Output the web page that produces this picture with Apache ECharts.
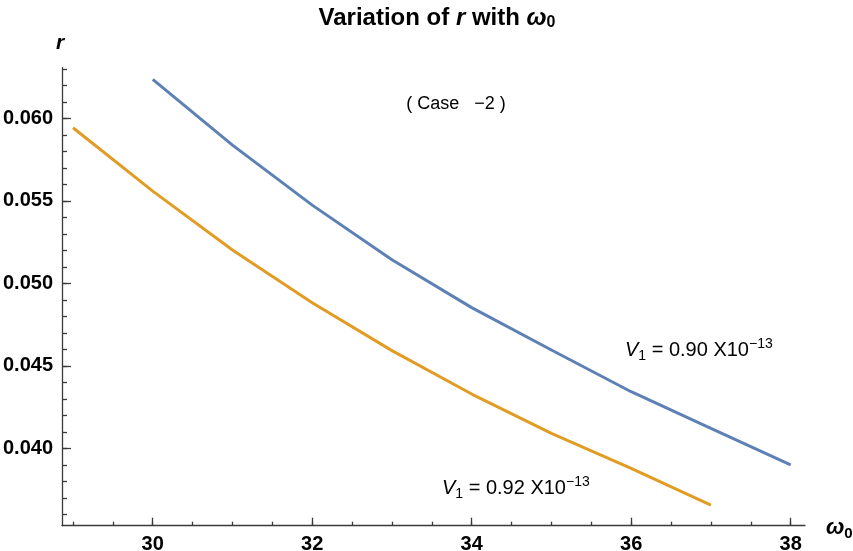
<!DOCTYPE html>
<html>
<head>
<meta charset="utf-8">
<script src="https://cdn.jsdelivr.net/npm/echarts@6/dist/echarts.min.js"></script>
<style>
  html, body { margin: 0; padding: 0; background: #fff; }
  #chart { width: 853px; height: 551px; }
</style>
</head>
<body>
<div id="chart"></div>
<script>
// omega_0 values for each curve
const omegaBlue = [30, 31, 32, 33, 34, 35, 36, 37, 38];
const rBlue = [0.06236, 0.05838, 0.05474, 0.05143, 0.04853, 0.04596, 0.04343, 0.04121, 0.03899];
const omegaOrange = [29, 30, 31, 32, 33, 34, 35, 36, 37];
const rOrange = [0.05943, 0.05559, 0.05202, 0.04882, 0.04592, 0.04329, 0.04091, 0.03879, 0.03656];

// ticks
const xMajorTicks = [30, 32, 34, 36, 38];
const xMinorTicks = [29, 29.5, 30, 30.5, 31, 31.5, 32, 32.5, 33, 33.5, 34, 34.5, 35, 35.5, 36, 36.5, 37, 37.5, 38];
const yMajorTicks = [0.040, 0.045, 0.050, 0.055, 0.060];
const yMinorTicks = [0.036, 0.037, 0.038, 0.039, 0.040, 0.041, 0.042, 0.043, 0.044, 0.045, 0.046, 0.047, 0.048, 0.049,
  0.050, 0.051, 0.052, 0.053, 0.054, 0.055, 0.056, 0.057, 0.058, 0.059, 0.060, 0.061, 0.062, 0.063];

const FONT = "'Liberation Sans', Arial, sans-serif";
const AXIS_COLOR = "#3a3a3a";
const X_MIN = 28.862, X_MAX = 38.18;
const Y_MIN = 0.03531, Y_MAX = 0.06307;

const myChart = echarts.init(document.getElementById("chart"));

function pairs(xs, ys) {
  return xs.map((x, i) => [x, ys[i]]);
}

// rich styles for the V1 labels
const labelRich = {
  v: { fontFamily: FONT, fontSize: 20, fontStyle: "italic", lineHeight: 26, verticalAlign: "middle", fill: "#000" },
  sub: { fontFamily: FONT, fontSize: 14, lineHeight: 15, verticalAlign: "bottom", fill: "#000" },
  n: { fontFamily: FONT, fontSize: 20, lineHeight: 26, verticalAlign: "middle", fill: "#000" },
  sup: { fontFamily: FONT, fontSize: 14, lineHeight: 15, verticalAlign: "top", fill: "#000" },
};

const option = {
  animation: false,
  backgroundColor: "#fff",
  title: {
    text: "Variation of {i|r} with {w|ω}{s|0}",
    left: 432,
    top: 0,
    textAlign: "center",
    textStyle: {
      fontFamily: FONT,
      fontSize: 24,
      fontWeight: "bold",
      color: "#000",
      lineHeight: 26,
      rich: {
        i: { fontFamily: FONT, fontSize: 24, fontWeight: "bold", fontStyle: "italic", color: "#000", lineHeight: 26 },
        w: { fontFamily: FONT, fontSize: 24, fontWeight: "bold", fontStyle: "italic", color: "#000", lineHeight: 26 },
        s: { fontFamily: FONT, fontSize: 16, fontWeight: "bold", color: "#000", lineHeight: 15, verticalAlign: "bottom" },
      },
    },
  },
  grid: {
    left: 62,
    right: 48,
    top: 67.7,
    bottom: 25.3,
    containLabel: false,
    outerBoundsMode: "none",
  },
  xAxis: [
    {
      type: "value",
      min: X_MIN,
      max: X_MAX,
      splitLine: { show: false },
      axisLine: { show: true, onZero: false, lineStyle: { color: AXIS_COLOR, width: 1.3 } },
      axisTick: { show: true, inside: true, length: 8, customValues: xMajorTicks, lineStyle: { color: AXIS_COLOR, width: 1.3 } },
      axisLabel: {
        show: true,
        customValues: xMajorTicks,
        margin: 9,
        fontFamily: FONT,
        fontSize: 20,
        fontWeight: "bold",
        color: "#000",
      },
    },
    {
      type: "value",
      min: X_MIN,
      max: X_MAX,
      position: "bottom",
      splitLine: { show: false },
      axisLine: { show: false, onZero: false },
      axisTick: { show: true, inside: true, length: 4, customValues: xMinorTicks, lineStyle: { color: AXIS_COLOR, width: 1.3 } },
      axisLabel: { show: false },
    },
  ],
  yAxis: [
    {
      type: "value",
      min: Y_MIN,
      max: Y_MAX,
      splitLine: { show: false },
      axisLine: { show: true, onZero: false, lineStyle: { color: AXIS_COLOR, width: 1.3 } },
      axisTick: { show: true, inside: true, length: 9, customValues: yMajorTicks, lineStyle: { color: AXIS_COLOR, width: 1.3 } },
      axisLabel: {
        show: true,
        customValues: yMajorTicks,
        margin: 9,
        fontFamily: FONT,
        fontSize: 20,
        fontWeight: "bold",
        color: "#000",
        formatter: (v) => v.toFixed(3),
      },
    },
    {
      type: "value",
      min: Y_MIN,
      max: Y_MAX,
      position: "left",
      splitLine: { show: false },
      axisLine: { show: false, onZero: false },
      axisTick: { show: true, inside: true, length: 5, customValues: yMinorTicks, lineStyle: { color: AXIS_COLOR, width: 1.3 } },
      axisLabel: { show: false },
    },
  ],
  series: [
    {
      name: "V1 = 0.90",
      type: "line",
      data: pairs(omegaBlue, rBlue),
      showSymbol: false,
      symbol: "none",
      lineStyle: { color: "#5e81b5", width: 3 },
      z: 3,
    },
    {
      name: "V1 = 0.92",
      type: "line",
      data: pairs(omegaOrange, rOrange),
      showSymbol: false,
      symbol: "none",
      lineStyle: { color: "#e19c24", width: 3 },
      z: 3,
    },
  ],
  graphic: [
    {
      // y axis name
      type: "text",
      x: 60,
      y: 43,
      style: {
        text: "r",
        font: "italic bold 21px " + FONT,
        fill: "#000",
        align: "center",
        verticalAlign: "middle",
      },
    },
    {
      // x axis name
      type: "text",
      x: 826,
      y: 528,
      style: {
        text: "{w|ω}{s|0}",
        align: "left",
        verticalAlign: "middle",
        rich: {
          w: { fontFamily: FONT, fontSize: 22, fontWeight: "bold", fontStyle: "italic", fill: "#000", lineHeight: 26 },
          s: { fontFamily: FONT, fontSize: 15, fontWeight: "bold", fill: "#000", lineHeight: 16, verticalAlign: "bottom" },
        },
      },
    },
    {
      type: "text",
      x: 456,
      y: 104,
      style: {
        text: "( Case   \u22122 )",
        font: "18px " + FONT,
        fill: "#000",
        align: "center",
        verticalAlign: "middle",
      },
    },
    {
      type: "text",
      x: 625,
      y: 350,
      style: {
        text: "{v|V}{sub|1}{n| = 0.90 X10}{sup|\u221213}",
        align: "left",
        verticalAlign: "middle",
        rich: labelRich,
      },
    },
    {
      type: "text",
      x: 442,
      y: 488,
      style: {
        text: "{v|V}{sub|1}{n| = 0.92 X10}{sup|\u221213}",
        align: "left",
        verticalAlign: "middle",
        rich: labelRich,
      },
    },
  ],
};

option && myChart.setOption(option, true);
window.addEventListener("resize", function () {
  myChart.resize();
});
</script>
</body>
</html>
